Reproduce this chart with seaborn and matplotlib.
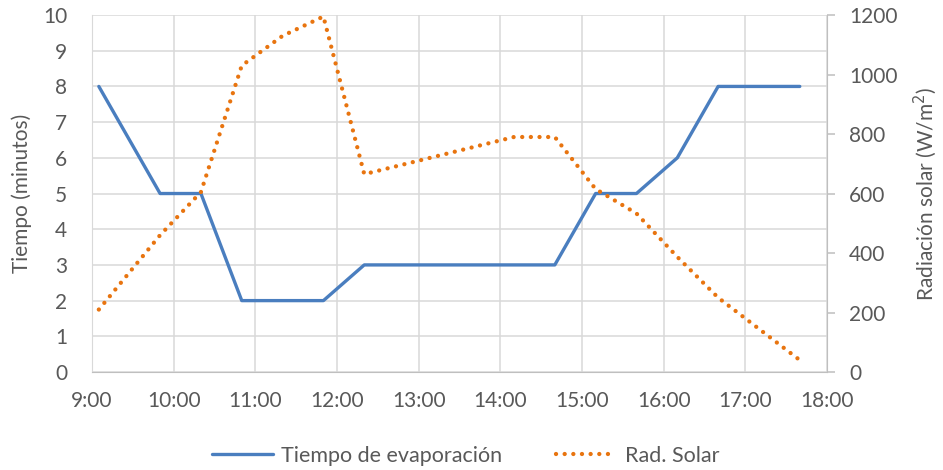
import numpy as np
import pandas as pd
import matplotlib
matplotlib.use('Agg')
import matplotlib.pyplot as plt
import seaborn as sns

# data
horas = ['9:05', '9:50', '10:20', '10:50', '11:20', '11:50', '12:20',
         '14:10', '14:40', '15:10', '15:40', '16:10', '16:40', '17:40']
tiempo = [8, 5, 5, 2, 2, 2, 3, 3, 3, 5, 5, 6, 8, 8]
radiacion = [210, 460, 605, 1030, 1130, 1195, 665, 790, 790, 615, 533, 387, 250, 40]
xticklabels = ['9:00', '10:00', '11:00', '12:00', '13:00', '14:00', '15:00', '16:00', '17:00', '18:00']


def toHours(s):
    h, m = s.split(':')
    return int(h) + int(m) / 60.0


sns.set_style('white')
plt.rcParams['font.family'] = ['Lato', 'DejaVu Sans']

txtColor = '#595959'
gridColor = '#d9d9d9'
blue = '#4a7ebf'
orange = '#e8740f'

df = pd.DataFrame({'hora': [toHours(h) for h in horas],
                   'tiempo': tiempo,
                   'radiacion': radiacion})

fig, ax = plt.subplots(figsize=(9.43, 4.70), dpi=100)
fig.subplots_adjust(left=0.0976, right=0.877, top=0.968, bottom=0.2085)

sns.lineplot(x='hora', y='tiempo', data=df, ax=ax, color=blue, linewidth=2.4,
             label='Tiempo de evaporación', legend=False)

ax2 = ax.twinx()
sns.lineplot(x='hora', y='radiacion', data=df, ax=ax2, color=orange, linewidth=3.1,
             linestyle=(0, (0.01, 2.0)), dash_capstyle='round',
             label='Rad. Solar', legend=False)

xt = [toHours(t) for t in xticklabels]
ax.set_xlim(9, 18)
ax.set_xticks(xt)
ax.set_xticklabels(xticklabels)
ax.set_ylim(0, 10)
ax.set_yticks(range(0, 11))
ax2.set_ylim(0, 1200)
ax2.set_yticks(range(0, 1201, 200))

ax.grid(True, color=gridColor, linewidth=1.1)
ax.set_axisbelow(True)
ax.set_xlabel('')
ax.set_ylabel('Tiempo (minutos)', fontsize=15, color=txtColor, labelpad=8)
ax2.set_ylabel('Radiación solar (W/m$^2$)', fontsize=15, color=txtColor, labelpad=10)

ax.tick_params(axis='x', length=0, pad=14, labelsize=15, labelcolor=txtColor)
ax.tick_params(axis='y', length=0, pad=18, labelsize=15, labelcolor=txtColor)
ax2.tick_params(axis='y', length=6, width=1.1, color='#bfbfbf', pad=10,
                labelsize=15, labelcolor=txtColor)

for a in (ax, ax2):
    for side in ['left', 'right', 'bottom', 'top']:
        a.spines[side].set_visible(False)
ax.spines['bottom'].set_visible(True)
ax.spines['bottom'].set_color('#bfbfbf')
ax.spines['left'].set_visible(True)
ax.spines['left'].set_color(gridColor)
ax2.spines['right'].set_visible(True)
ax2.spines['right'].set_color('#bfbfbf')

h1, l1 = ax.get_legend_handles_labels()
h2, l2 = ax2.get_legend_handles_labels()
leg = fig.legend(h1 + h2, l1 + l2, loc='center', bbox_to_anchor=(0.494, 0.03),
                 ncol=2, frameon=False, fontsize=15.5, handlelength=2.8,
                 handletextpad=0.4, columnspacing=2.5)
for t in leg.get_texts():
    t.set_color(txtColor)

plt.savefig('out.png', dpi=100)
